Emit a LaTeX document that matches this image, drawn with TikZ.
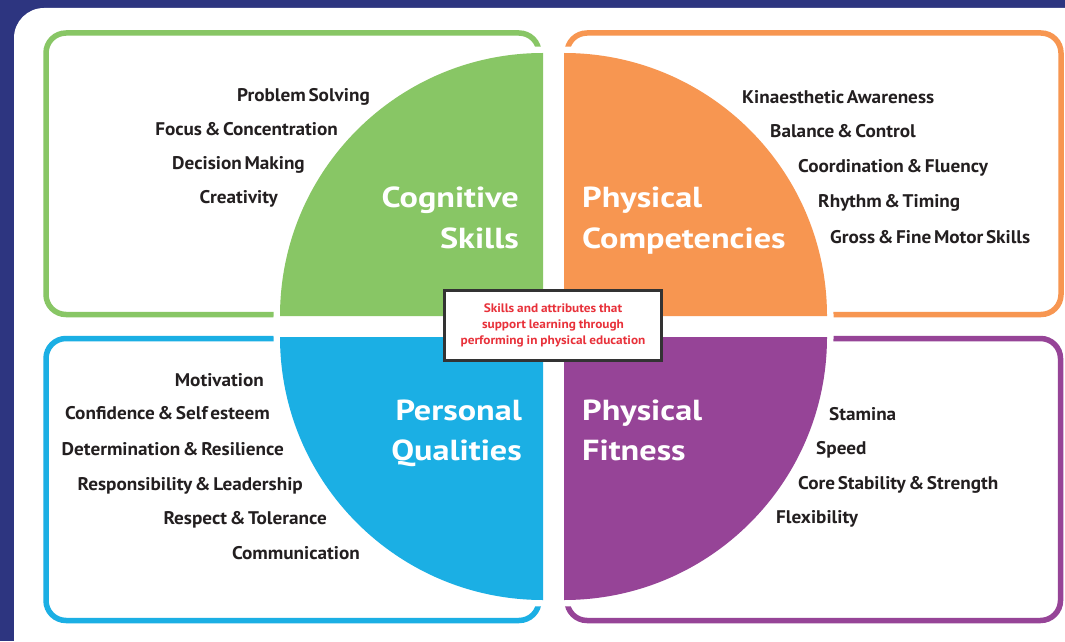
\documentclass[tikz,border=0pt]{standalone}
\usepackage{fontspec}
\setmainfont{PT Sans}[WordSpace=0.55, FakeStretch=1.05]
\newfontfamily\ttlfont{PT Sans}[FakeStretch=1.18]
\newfontfamily\lblfont{PT Sans}[FakeStretch=1.08, WordSpace=0.85]
\definecolor{navy}{HTML}{2D3580}
\definecolor{cgreen}{HTML}{88C665}
\definecolor{corange}{HTML}{F79651}
\definecolor{cblue}{HTML}{1BAFE4}
\definecolor{cpurple}{HTML}{964497}
\definecolor{ink}{HTML}{231F20}
\definecolor{cred}{HTML}{E8313A}
\definecolor{boxline}{HTML}{333333}
\begin{document}
\begin{tikzpicture}[x=1pt,y=1pt,
  panel/.style={line width=5.5pt, rounded corners=20pt},
  sector/.style={fill=#1, preaction={draw=white, line width=13pt, line join=miter}},
  item/.style={font=\fontsize{18.3}{20}\selectfont\bfseries, text=ink, inner sep=0pt},
  itemL/.style={item, anchor=base west},
  itemR/.style={item, anchor=base east},
  ttl/.style={font=\ttlfont\fontsize{29}{32}\selectfont\bfseries, text=white, inner sep=0pt}]
\useasboundingbox (0,0) rectangle (1065,641);
\fill[navy] (0,0) rectangle (1065,641);
\fill[white, rounded corners=30pt] (14,633) rectangle (1100,-40);
% panels
\draw[panel, cgreen]   (46,326.5) rectangle (539,608);
\draw[panel, corange]  (567,326.5) rectangle (1061,608);
\draw[panel, cblue]    (46,20.5) rectangle (539,302.5);
\draw[panel, cpurple]  (567,20.5) rectangle (1060.5,302.5);
% quadrants
\path[sector=cgreen]  (543,325) -- (280,325) arc[start angle=180, end angle=90, radius=263pt] -- cycle;
\path[sector=corange] (564,325) -- (564,588) arc[start angle=90, end angle=0, radius=263pt] -- cycle;
\path[sector=cblue]   (543,304) -- (280,304) arc[start angle=180, end angle=270, radius=263pt] -- cycle;
\path[sector=cpurple] (564,304) -- (564,41) arc[start angle=270, end angle=360, radius=263pt] -- cycle;
% titles
\node[ttl, anchor=base east] (t1a) at (519,433) {Cognitive};
\node[ttl, anchor=base east] (t1b) at (519,392) {Skills};
\node[ttl, anchor=base west] (t2a) at (582,433) {Physical};
\node[ttl, anchor=base west] (t2b) at (582,392) {Competencies};
\node[ttl, anchor=base east] (t3a) at (522,221) {Personal};
\node[ttl, anchor=base east] (t3b) at (522,181) {Qualities};
\node[ttl, anchor=base west] (t4a) at (582,221) {Physical};
\node[ttl, anchor=base west] (t4b) at (582,181) {Fitness};
% green list
\node[itemR] (g1) at (370,539) {Problem Solving};
\node[itemR] (g2) at (338,505) {Focus \& Concentration};
\node[itemR] (g3) at (305,471) {Decision Making};
\node[itemR] (g4) at (278,437) {Creativity};
% orange list
\node[itemL] (o1) at (742,537) {Kinaesthetic Awareness};
\node[itemL] (o2) at (770,503) {Balance \& Control};
\node[itemL] (o3) at (798,468) {Coordination \& Fluency};
\node[itemL] (o4) at (818,433) {Rhythm \& Timing};
\node[itemL] (o5) at (830,398) {Gross \& Fine Motor Skills};
% blue list
\node[itemR] (b1) at (264,255) {Motivation};
\node[itemR] (b2) at (270,222) {Confidence \& Self esteem};
\node[itemR] (b3) at (284,186) {Determination \& Resilience};
\node[itemR] (b4) at (303,151) {Responsibility \& Leadership};
\node[itemR] (b5) at (327,117) {Respect \& Tolerance};
\node[itemR] (b6) at (360,82) {Communication};
% purple list
\node[itemL] (p1) at (829,221) {Stamina};
\node[itemL] (p2) at (816,187) {Speed};
\node[itemL] (p3) at (798,152) {Core Stability \& Strength};
\node[itemL] (p4) at (776,118) {Flexibility};
% centre label
\node[draw=boxline, line width=3pt, fill=white, minimum width=217pt, minimum height=70pt,
      align=center, text=cred, font=\lblfont\fontsize{12.3}{16}\selectfont\bfseries, inner sep=0pt]
      (centre) at (553,315.5) {Skills and attributes that\\support learning through\\performing in physical education};
\end{tikzpicture}
\end{document}
